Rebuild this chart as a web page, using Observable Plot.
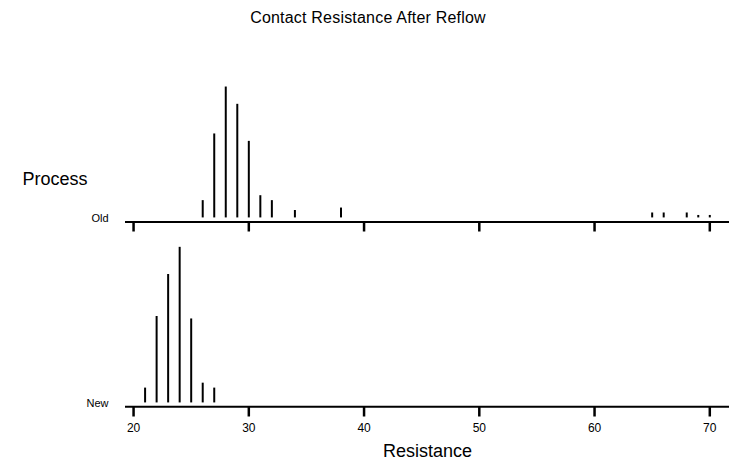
<!DOCTYPE html>
<html>
<head>
<meta charset="utf-8">
<script src="https://cdn.jsdelivr.net/npm/d3@7"></script>
<script src="https://cdn.jsdelivr.net/npm/@observablehq/plot@0.6"></script>
<style>
  html, body { margin: 0; padding: 0; background: #fff; }
  #wrap { position: relative; width: 732px; height: 462px; }
  #title { position: absolute; left: 0; top: 8px; width: 736px; text-align: center;
           font-family: "Liberation Sans", Arial, sans-serif; font-size: 16px; line-height: 20px; color: #000; letter-spacing: 0.2px; }
</style>
</head>
<body>
<div id="wrap"><div id="title">Contact Resistance After Reflow</div></div>
<script>
// ---- data ----
const panels = ["Old", "New"];
const oldResistance = [26, 27, 28, 29, 30, 31, 32, 34, 38, 65, 66, 68, 69, 70];
const oldCount      = [7, 34, 53, 46, 31, 9, 7, 3, 4, 2, 2, 2, 1, 1];
const newResistance = [21, 22, 23, 24, 25, 26, 27];
const newCount      = [6, 35, 52, 63, 34, 8, 6];
const xTicks = [20, 30, 40, 50, 60, 70];

const spikes = [
  ...oldResistance.map((r, i) => ({process: "Old", resistance: r, count: oldCount[i]})),
  ...newResistance.map((r, i) => ({process: "New", resistance: r, count: newCount[i]}))
];
const tickRows = panels.flatMap(p => xTicks.map(t => ({process: p, value: t})));

// scale layout (count units)
const axisY = -1.6, tickEnd = -5.7, yMax = 63.5;

const chart = Plot.plot({
  width: 732,
  height: 462,
  marginTop: 60.6,
  marginBottom: 45.5,
  marginLeft: 125,
  marginRight: 3,
  style: {fontFamily: "'Liberation Sans', Arial, sans-serif", fontSize: "10px", color: "black", background: "white"},
  x: {domain: [19.3, 71.71], axis: null},
  y: {domain: [tickEnd, yMax], axis: null},
  fy: {domain: panels, axis: null, paddingInner: 0.0762, paddingOuter: 0, round: false, label: null},
  marks: [
    Plot.ruleY(panels, {fy: d => d, y: axisY, stroke: "black", strokeWidth: 2}),
    Plot.ruleX(tickRows, {fy: "process", x: "value", y1: axisY, y2: tickEnd, stroke: "black", strokeWidth: 2.5}),
    Plot.ruleX(spikes, {fy: "process", x: "resistance", y1: 0, y2: "count", stroke: "black", strokeWidth: 2}),
    Plot.text(panels, {fy: d => d, text: d => d, y: axisY, frameAnchor: "left", dx: -17, dy: -3.5, textAnchor: "end", fontSize: 11, letterSpacing: "1.2px"}),
    Plot.text(xTicks, {fy: () => "New", x: d => d, y: tickEnd, text: d => String(d), dy: 11.5, fontSize: 12, letterSpacing: "0.6px"}),
    Plot.text(["Resistance"], {fy: () => "New", text: d => d, frameAnchor: "bottom", dy: 40, fontSize: 18, letterSpacing: "1.4px"}),
    Plot.text(["Process"], {fy: () => "Old", text: d => d, frameAnchor: "bottom-left", dx: -103, dy: -47.5, textAnchor: "start", fontSize: 18, letterSpacing: "1.2px"})
  ]
});
document.getElementById("wrap").appendChild(chart);
</script>
</body>
</html>
